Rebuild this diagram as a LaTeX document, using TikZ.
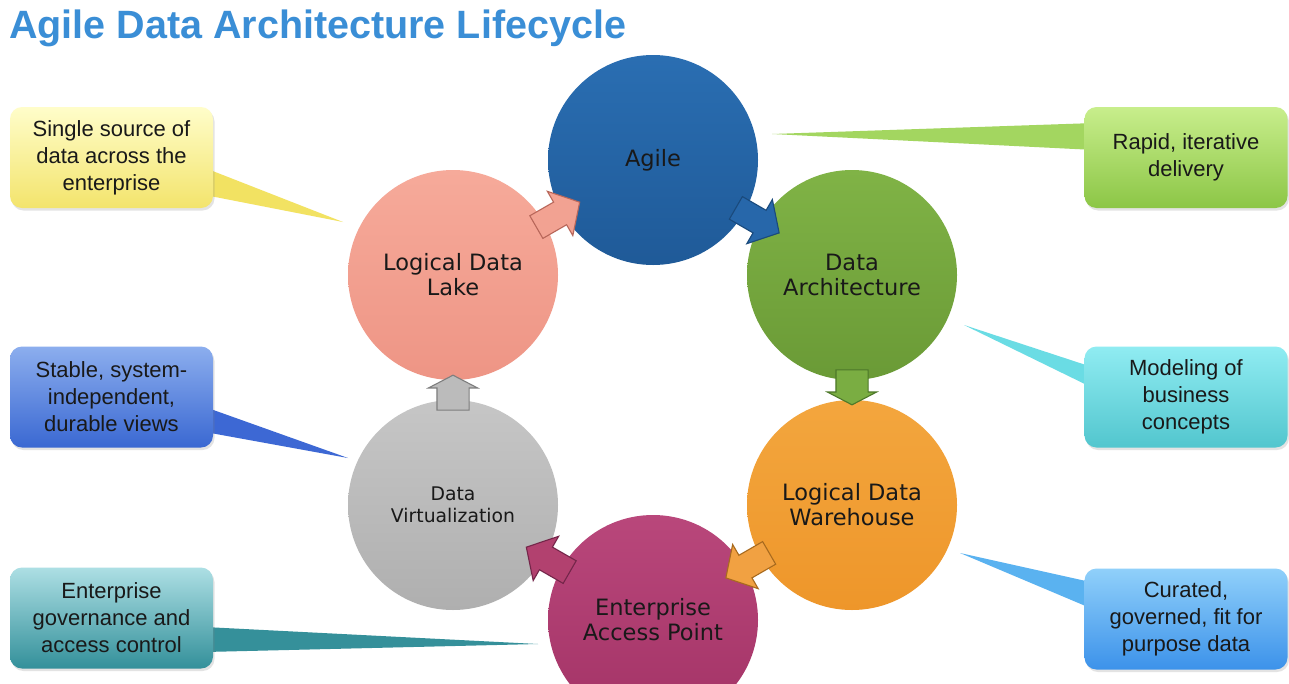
\documentclass[tikz,border=0pt]{standalone}
\usepackage{fontspec}
\setmainfont{Liberation Sans}
\newfontfamily\circfont{DejaVu Sans}
\usetikzlibrary{shapes.arrows,shadows,calc}

\definecolor{titleblue}{RGB}{58,142,214}
\definecolor{agileT}{HTML}{2A6EB2}
\definecolor{agileB}{HTML}{1F5A98}
\definecolor{archT}{HTML}{80B346}
\definecolor{archB}{HTML}{6A9A36}
\definecolor{ldwT}{HTML}{F3A63E}
\definecolor{ldwB}{HTML}{EE962A}
\definecolor{eapT}{HTML}{B9477B}
\definecolor{eapB}{HTML}{A33366}
\definecolor{dvT}{HTML}{C6C6C6}
\definecolor{dvB}{HTML}{AFAFAF}
\definecolor{lakeT}{HTML}{F6AA9A}
\definecolor{lakeB}{HTML}{EE9585}
% arrow colours
\definecolor{arLakeF}{HTML}{F2A292}
\definecolor{arLakeD}{HTML}{B8675A}
\definecolor{arAgileF}{HTML}{2767AA}
\definecolor{arAgileD}{HTML}{1A4A7C}
\definecolor{arArchF}{HTML}{7AAD42}
\definecolor{arArchD}{HTML}{4D7829}
\definecolor{arLdwF}{HTML}{F1A142}
\definecolor{arLdwD}{HTML}{A86A1E}
\definecolor{arEapF}{HTML}{B2416F}
\definecolor{arEapD}{HTML}{74264A}
\definecolor{arDvF}{HTML}{BBBBBB}
\definecolor{arDvD}{HTML}{7E7E7E}
% callout colours
\definecolor{yelT}{HTML}{FFFDCA}
\definecolor{yelB}{HTML}{F3E46C}
\definecolor{yelP}{HTML}{F2E262}
\definecolor{stbT}{HTML}{8CAEEE}
\definecolor{stbB}{HTML}{3A68D2}
\definecolor{stbP}{HTML}{3D68D4}
\definecolor{teaT}{HTML}{ADDFE4}
\definecolor{teaB}{HTML}{33909A}
\definecolor{teaP}{HTML}{35909A}
\definecolor{grnT}{HTML}{C8EE8C}
\definecolor{grnB}{HTML}{8CC646}
\definecolor{grnP}{HTML}{A3D660}
\definecolor{cyaT}{HTML}{90ECF2}
\definecolor{cyaB}{HTML}{52C6CE}
\definecolor{cyaP}{HTML}{6ADCE4}
\definecolor{lbuT}{HTML}{90D0FA}
\definecolor{lbuB}{HTML}{3C92EA}
\definecolor{lbuP}{HTML}{5AB2F0}

\tikzset{
  circ/.style={circle, minimum size=210pt, inner sep=0pt, align=center,
    font=\circfont\fontsize{22.5}{25}\selectfont, text=black!90},
  darr/.style={single arrow, inner xsep=0pt, inner ysep=12.5pt, outer sep=0pt,
    line width=1.1pt, minimum height=50pt, minimum width=0pt,
    single arrow head extend=12.5pt, single arrow tip angle=97},
  varr/.style={single arrow, inner xsep=0pt, inner ysep=15.5pt, outer sep=0pt,
    line width=1.1pt, minimum height=35pt, minimum width=0pt,
    single arrow head extend=8.5pt, single arrow tip angle=125},
  callout/.style={rectangle, rounded corners=12pt, minimum width=203pt,
    minimum height=101pt, inner sep=0pt, align=center,
    font=\fontsize{22}{27}\selectfont, text=black!90,
    drop shadow={opacity=0.22, shadow xshift=1.5pt, shadow yshift=-2.5pt}},
  titlestyle/.style={anchor=base west, inner sep=0pt, text=titleblue,
    font=\bfseries\fontsize{39.5}{44}\selectfont}
}

\begin{document}
\begin{tikzpicture}[x=1pt,y=-1pt]
\useasboundingbox (0,0) rectangle (1289,683);
\clip (0,0) rectangle (1289,683);
\fill[white] (0,0) rectangle (1289,683);

% title
\node[titlestyle] (title) at (9,38) {Agile Data Architecture Lifecycle};

% pointer tips
\coordinate (tipY) at (343,222);
\coordinate (tipS) at (348,458);
\coordinate (tipT) at (538,644);
\coordinate (tipG) at (772,134);
\coordinate (tipC) at (964,325);
\coordinate (tipL) at (960,553);

% callout pointers
\fill[yelP] (205,168) -- (tipY) -- (205,195) -- cycle;
\fill[stbP] (205,407) -- (tipS) -- (205,432) -- cycle;
\fill[teaP] (205,627) -- (tipT) -- (205,652) -- cycle;
\fill[grnP] (1095,123) -- (tipG) -- (1095,150) -- cycle;
\fill[cyaP] (1095,368) -- (tipC) -- (1095,389) -- cycle;
\fill[lbuP] (1095,583) -- (tipL) -- (1095,610) -- cycle;

% callout boxes
\node[callout, top color=yelT, bottom color=yelB] (cY) at (111.5,157.5)
  {Single source of\\data across the\\enterprise};
\node[callout, top color=stbT, bottom color=stbB] (cS) at (111.5,397)
  {Stable, system-\\independent,\\durable views};
\node[callout, top color=teaT, bottom color=teaB] (cT) at (111.5,618)
  {Enterprise\\governance and\\access control};
\node[callout, top color=grnT, bottom color=grnB] (cG) at (1186,157.5)
  {Rapid, iterative\\delivery};
\node[callout, top color=cyaT, bottom color=cyaB] (cC) at (1186,397)
  {Modeling of\\business\\concepts};
\node[callout, top color=lbuT, bottom color=lbuB] (cL) at (1186,619)
  {Curated,\\governed, fit for\\purpose data};

% circles
\node[circ, top color=agileT, bottom color=agileB] (agile) at (653,160) {Agile};
\node[circ, top color=archT, bottom color=archB] (arch) at (852,275) {Data\\Architecture};
\node[circ, top color=ldwT, bottom color=ldwB] (ldw) at (852,505) {Logical Data\\Warehouse};
\node[circ, top color=eapT, bottom color=eapB] (eap) at (653,620) {Enterprise\\Access Point};
\node[circ, top color=dvT, bottom color=dvB, font=\circfont\fontsize{18.8}{22}\selectfont] (dv) at (453,505) {Data\\Virtualization};
\node[circ, top color=lakeT, bottom color=lakeB] (lake) at (453,275) {Logical Data\\Lake};

% cycle arrows
\path (lake) -- (agile) node[midway, sloped, allow upside down, darr, fill=arLakeF, draw=arLakeD] {};
\path (agile) -- (arch) node[midway, sloped, allow upside down, darr, fill=arAgileF, draw=arAgileD] {};
\path (arch) -- (ldw) node[pos=0.15, sloped, allow upside down, varr, fill=arArchF, draw=arArchD] {};
\path (ldw) -- (eap) node[midway, sloped, allow upside down, darr, fill=arLdwF, draw=arLdwD] {};
\path (eap) -- (dv) node[midway, sloped, allow upside down, darr, fill=arEapF, draw=arEapD] {};
\path (dv) -- (lake) node[pos=0.15, sloped, allow upside down, varr, fill=arDvF, draw=arDvD] {};
\end{tikzpicture}
\end{document}
